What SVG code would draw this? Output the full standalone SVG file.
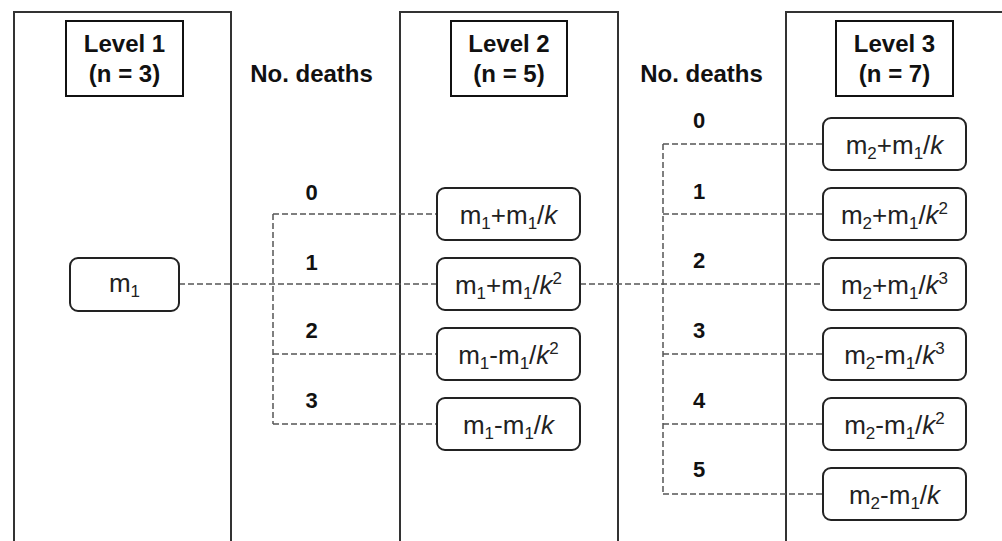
<svg xmlns="http://www.w3.org/2000/svg" width="1002" height="541" viewBox="0 0 1002 541">
<style>
.panel{fill:none;stroke:#333;stroke-width:2}
.hdr{fill:#fff;stroke:#111;stroke-width:2}
.node{fill:#fff;stroke:#222;stroke-width:2}
.ht{font-family:"Liberation Sans",Arial,sans-serif;font-weight:bold;font-size:24px;fill:#111;text-anchor:middle}
.dl{font-family:"Liberation Sans",Arial,sans-serif;font-weight:bold;font-size:22px;fill:#111;text-anchor:middle}
.nt{font-family:"Liberation Sans",Arial,sans-serif;font-size:26px;fill:#222;text-anchor:middle}
.s{font-size:17px}
.k{font-style:italic}
.conn{fill:none;stroke:#555;stroke-width:1.5;stroke-dasharray:6 3}
</style>
<rect width="1002" height="541" fill="#fff"/>
<g id="panels">
<rect class="panel" x="14" y="12" width="217" height="560"/>
<rect class="panel" x="400" y="12" width="218" height="560"/>
<rect class="panel" x="786" y="12" width="240" height="560"/>
</g>
<g id="level1">
<rect class="hdr" x="66" y="21" width="117" height="75"/>
<text class="ht" x="124.5" y="52">Level 1</text>
<text class="ht" x="124.5" y="82">(n = 3)</text>
</g>
<g id="level2">
<rect class="hdr" x="451" y="21" width="116" height="75"/>
<text class="ht" x="509" y="52">Level 2</text>
<text class="ht" x="509" y="82">(n = 5)</text>
</g>
<g id="level3">
<rect class="hdr" x="836" y="21" width="117" height="75"/>
<text class="ht" x="894.5" y="52">Level 3</text>
<text class="ht" x="894.5" y="82">(n = 7)</text>
</g>
<g id="deaths-labels">
<text class="ht" x="311.5" y="82">No. deaths</text>
<text class="ht" x="701.5" y="82">No. deaths</text>
<text class="dl" x="311.5" y="200">0</text>
<text class="dl" x="311.5" y="270">1</text>
<text class="dl" x="311.5" y="338">2</text>
<text class="dl" x="311.5" y="408">3</text>
<text class="dl" x="699" y="128">0</text>
<text class="dl" x="699" y="199">1</text>
<text class="dl" x="699" y="268">2</text>
<text class="dl" x="699" y="338">3</text>
<text class="dl" x="699" y="408">4</text>
<text class="dl" x="699" y="477">5</text>
</g>
<g id="connectors">
<path class="conn" d="M179 284H437"/>
<path class="conn" d="M273 214V424M273 214H437M273 354H437M273 424H437"/>
<path class="conn" d="M580 284H823"/>
<path class="conn" d="M663 144V494M663 144H823M663 214H823M663 354H823M663 424H823M663 494H823"/>
</g>
<g id="n-m1">
<rect class="node" x="70" y="258" width="109" height="53" rx="8"/>
<text class="nt" x="124.5" y="292">m<tspan class="s" dy="5">1</tspan></text>
</g>
<g id="n-l2-0">
<rect class="node" x="437" y="188" width="143" height="52" rx="8"/>
<text class="nt" x="508.5" y="224">m<tspan class="s" dy="5">1</tspan><tspan dy="-5">+m</tspan><tspan class="s" dy="5">1</tspan><tspan dy="-5">/</tspan><tspan class="k">k</tspan></text>
</g>
<g id="n-l2-1">
<rect class="node" x="437" y="258" width="143" height="52" rx="8"/>
<text class="nt" x="508.5" y="294">m<tspan class="s" dy="5">1</tspan><tspan dy="-5">+m</tspan><tspan class="s" dy="5">1</tspan><tspan dy="-5">/</tspan><tspan class="k">k</tspan><tspan class="s" dy="-10">2</tspan></text>
</g>
<g id="n-l2-2">
<rect class="node" x="437" y="328" width="143" height="52" rx="8"/>
<text class="nt" x="508.5" y="364">m<tspan class="s" dy="5">1</tspan><tspan dy="-5">-m</tspan><tspan class="s" dy="5">1</tspan><tspan dy="-5">/</tspan><tspan class="k">k</tspan><tspan class="s" dy="-10">2</tspan></text>
</g>
<g id="n-l2-3">
<rect class="node" x="437" y="398" width="143" height="52" rx="8"/>
<text class="nt" x="508.5" y="434">m<tspan class="s" dy="5">1</tspan><tspan dy="-5">-m</tspan><tspan class="s" dy="5">1</tspan><tspan dy="-5">/</tspan><tspan class="k">k</tspan></text>
</g>
<g id="n-l3-0">
<rect class="node" x="823" y="118" width="143" height="52" rx="8"/>
<text class="nt" x="894.5" y="154">m<tspan class="s" dy="5">2</tspan><tspan dy="-5">+m</tspan><tspan class="s" dy="5">1</tspan><tspan dy="-5">/</tspan><tspan class="k">k</tspan></text>
</g>
<g id="n-l3-1">
<rect class="node" x="823" y="188" width="143" height="52" rx="8"/>
<text class="nt" x="894.5" y="224">m<tspan class="s" dy="5">2</tspan><tspan dy="-5">+m</tspan><tspan class="s" dy="5">1</tspan><tspan dy="-5">/</tspan><tspan class="k">k</tspan><tspan class="s" dy="-10">2</tspan></text>
</g>
<g id="n-l3-2">
<rect class="node" x="823" y="258" width="143" height="52" rx="8"/>
<text class="nt" x="894.5" y="294">m<tspan class="s" dy="5">2</tspan><tspan dy="-5">+m</tspan><tspan class="s" dy="5">1</tspan><tspan dy="-5">/</tspan><tspan class="k">k</tspan><tspan class="s" dy="-10">3</tspan></text>
</g>
<g id="n-l3-3">
<rect class="node" x="823" y="328" width="143" height="52" rx="8"/>
<text class="nt" x="894.5" y="364">m<tspan class="s" dy="5">2</tspan><tspan dy="-5">-m</tspan><tspan class="s" dy="5">1</tspan><tspan dy="-5">/</tspan><tspan class="k">k</tspan><tspan class="s" dy="-10">3</tspan></text>
</g>
<g id="n-l3-4">
<rect class="node" x="823" y="398" width="143" height="52" rx="8"/>
<text class="nt" x="894.5" y="434">m<tspan class="s" dy="5">2</tspan><tspan dy="-5">-m</tspan><tspan class="s" dy="5">1</tspan><tspan dy="-5">/</tspan><tspan class="k">k</tspan><tspan class="s" dy="-10">2</tspan></text>
</g>
<g id="n-l3-5">
<rect class="node" x="823" y="468" width="143" height="52" rx="8"/>
<text class="nt" x="894.5" y="504">m<tspan class="s" dy="5">2</tspan><tspan dy="-5">-m</tspan><tspan class="s" dy="5">1</tspan><tspan dy="-5">/</tspan><tspan class="k">k</tspan></text>
</g>
</svg>
